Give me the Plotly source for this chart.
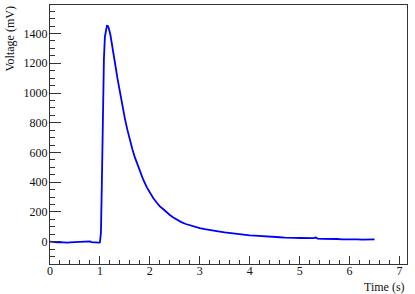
import plotly.graph_objects as go

# Pulse
time_s = [0.00, 0.05, 0.10, 0.15, 0.20, 0.25, 0.30, 0.35, 0.40, 0.45, 0.50, 0.55, 0.60,
          0.65, 0.70, 0.75, 0.80, 0.83, 0.87, 0.90, 0.95, 0.98, 1.00, 1.02, 1.04, 1.06,
          1.08, 1.10, 1.12, 1.14, 1.16, 1.18, 1.21, 1.24, 1.27, 1.31, 1.35, 1.40, 1.45,
          1.50, 1.55, 1.60, 1.65, 1.70, 1.75, 1.80, 1.87, 1.94, 2.00, 2.07, 2.14, 2.20,
          2.27, 2.34, 2.40, 2.47, 2.55, 2.63, 2.72, 2.80, 2.90, 3.00, 3.10, 3.20, 3.30,
          3.40, 3.50, 3.60, 3.70, 3.80, 3.90, 4.00, 4.10, 4.20, 4.30, 4.40, 4.50, 4.60,
          4.70, 4.80, 4.90, 5.00, 5.10, 5.20, 5.28, 5.32, 5.36, 5.45, 5.55, 5.65, 5.75,
          5.85, 5.95, 6.05, 6.15, 6.25, 6.35, 6.45, 6.50]
voltage_mv = [0, -2, -1, -4, -3, -5, -4, -6, -5, -4, -6, -5, -4,
              -5, -3, -2, 2, -3, -5, -6, -5, -6, -4, 60, 420, 880,
              1230, 1380, 1435, 1452, 1450, 1432, 1390, 1335, 1270, 1185, 1100, 1000, 910,
              828, 752, 683, 622, 567, 518, 473, 415, 365, 328, 292, 262, 238,
              218, 195, 180, 163, 146, 132, 119, 110, 100, 91, 84, 80, 74,
              68, 63, 58, 54, 50, 46, 43, 41, 38, 36, 33, 31, 30,
              28, 29, 26, 25, 23, 22, 24, 28, 21, 19, 20, 17, 18,
              16, 17, 15, 16, 14, 16, 15, 15]

x_range = [0, 7.15]
y_range = [-150, 1592]

font = 'Liberation Serif'

fig = go.Figure()

fig.add_trace(go.Scatter(x=time_s, y=voltage_mv, mode='lines',
                         line={'color': '#0000ff', 'width': 1.8}, showlegend=False))

fig.update_layout(
    width=415, height=294,
    margin={'l': 50, 'r': 8, 't': 5, 'b': 30, 'autoexpand': False},
    paper_bgcolor='white', plot_bgcolor='white',
    font={'family': font, 'size': 12, 'color': '#111'},
    annotations=[
        dict(text='Voltage (mV)', textangle=-90, xref='paper', yref='paper',
             x=0, y=1, xshift=-41, xanchor='center', yanchor='top', showarrow=False,
             font={'family': font, 'size': 12}),
        dict(text='Time (s)', xref='paper', yref='paper', x=1, y=0, yshift=-14,
             xanchor='right', yanchor='top', showarrow=False,
             font={'family': font, 'size': 12}),
    ])

fig.update_xaxes(range=x_range, dtick=1, showgrid=False, zeroline=False, automargin=False,
                 showline=True, mirror=True, linecolor='#333', linewidth=1,
                 ticks='inside', ticklen=8, tickcolor='#333', ticklabelstandoff=-4,
                 minor={'ticks': 'inside', 'ticklen': 4, 'dtick': 0.2, 'tickcolor': '#333'})
fig.update_yaxes(range=y_range, dtick=200, showgrid=False, zeroline=False, automargin=False,
                 showline=True, mirror=True, linecolor='#333', linewidth=1,
                 ticks='inside', ticklen=11, tickcolor='#333', ticklabelstandoff=-1,
                 minor={'ticks': 'inside', 'ticklen': 5, 'dtick': 50, 'tickcolor': '#333'})

# drop the browser's default body margin so the figure sits at the window corner
fig.write_html("out.html", config={'displayModeBar': False},
               post_script="document.body.style.margin = '0';")
